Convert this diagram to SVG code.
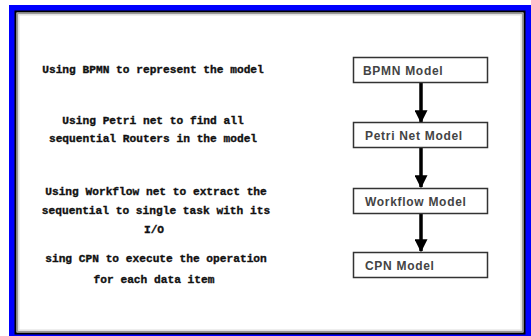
<svg xmlns="http://www.w3.org/2000/svg" width="531" height="336" viewBox="0 0 531 336">
  <style>
    .desc { font-family: "Liberation Mono", "DejaVu Sans Mono", monospace; font-weight: bold; font-size: 11.2px; fill: #111; stroke: #111; stroke-width: 0.35px; text-anchor: middle; }
    .box { fill: #fff; stroke: #333; stroke-width: 1.5; }
    .lbl { font-family: "Liberation Sans", Arial, sans-serif; font-weight: bold; font-size: 12px; letter-spacing: 0.7px; fill: #444; }
    .shaft { stroke: #000; stroke-width: 3.5; fill: none; }
  </style>
  <defs>
    <marker id="ah" viewBox="0 0 10 10" refX="9" refY="5" markerUnits="userSpaceOnUse" markerWidth="13" markerHeight="13" orient="auto">
      <path d="M0,0 L10,5 L0,10 Z" fill="#000"/>
    </marker>
  </defs>
  <rect x="0" y="0" width="531" height="336" fill="#fff"/>
  <!-- blue frame -->
  <rect x="9" y="5" width="522" height="331" fill="#0000ff"/>
  <rect x="15.5" y="11.5" width="509" height="322" fill="#fff" stroke="#000" stroke-width="2"/>
  <rect x="17.5" y="13.5" width="505" height="318" fill="none" stroke="#999" stroke-width="1.5"/>
  <rect x="19" y="15" width="502" height="315" fill="none" stroke="#ddd" stroke-width="1"/>

  <g id="descriptions">
    <text class="desc" x="153" y="73">Using BPMN to represent the model</text>
    <text class="desc" x="153" y="124">Using Petri net to find all</text>
    <text class="desc" x="153" y="142">sequential Routers in the model</text>
    <text class="desc" x="156" y="195">Using Workflow net to extract the</text>
    <text class="desc" x="156" y="214">sequential to single task with its</text>
    <text class="desc" x="154" y="233">I/O</text>
    <text class="desc" x="156" y="262">sing CPN to execute the operation</text>
    <text class="desc" x="154" y="283">for each data item</text>
  </g>

  <g id="connectors">
    <line class="shaft" x1="421" y1="83" x2="421" y2="122" marker-end="url(#ah)"/>
    <line class="shaft" x1="421" y1="148" x2="421" y2="187" marker-end="url(#ah)"/>
    <line class="shaft" x1="421" y1="214" x2="421" y2="251" marker-end="url(#ah)"/>
  </g>

  <g id="bpmn">
    <rect class="box" x="353.5" y="57.5" width="134" height="25"/>
    <text class="lbl" x="363" y="75">BPMN Model</text>
  </g>
  <g id="petri">
    <rect class="box" x="353.5" y="122.5" width="134" height="25"/>
    <text class="lbl" x="365" y="140">Petri Net Model</text>
  </g>
  <g id="workflow">
    <rect class="box" x="353.5" y="188.5" width="134" height="25"/>
    <text class="lbl" x="365" y="206">Workflow Model</text>
  </g>
  <g id="cpn">
    <rect class="box" x="353.5" y="252.5" width="134" height="25"/>
    <text class="lbl" x="365" y="270">CPN Model</text>
  </g>
</svg>
